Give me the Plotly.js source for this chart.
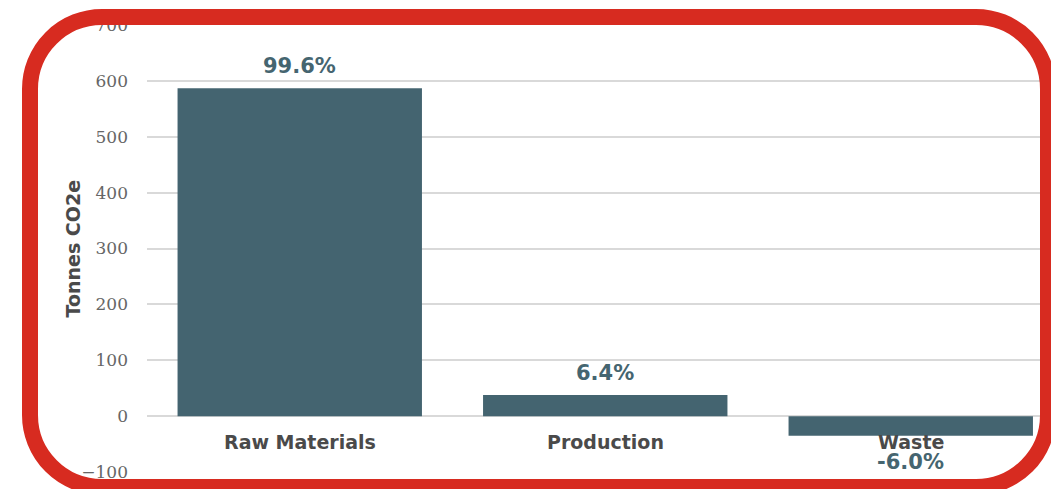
<!DOCTYPE html>
<html>
<head>
<meta charset="utf-8">
<script src="https://cdn.plot.ly/plotly-3.0.1.min.js"></script>
<style>
html,body{margin:0;padding:0;background:#fff;overflow:hidden;width:1051px;height:489px;}
#chart{position:absolute;left:0;top:0;width:1051px;height:489px;}
#frame{position:absolute;left:22px;top:9px;width:1002px;height:454px;border:16px solid #d72b20;border-radius:80px;pointer-events:none;}
</style>
</head>
<body>
<div id="chart"></div>
<div id="frame"></div>
<script>
const categories = ["Raw Materials", "Production", "Waste"];
const values = [587, 38, -35];
const shareLabels = ["99.6%", "6.4%", "-6.0%"];
const yTicks = [-100, 0, 100, 200, 300, 400, 500, 600, 700];

const W = 1051, H = 489, L = 147, T = 25, B = 17;
const plotW = W - L;

const barColor = "#446470";
const annotations = [];
categories.forEach((c, i) => {
  annotations.push({
    x: c, y: 0, xref: "x", yref: "y",
    text: c, showarrow: false,
    yanchor: "top", yshift: -13,
    font: {family: "DejaVu Sans", size: 19, color: "#4a4a4a", weight: "bold"}
  });
  const v = values[i];
  annotations.push({
    x: c, y: v, xref: "x", yref: "y",
    text: shareLabels[i], showarrow: false,
    yanchor: v >= 0 ? "bottom" : "top",
    yshift: v >= 0 ? 8 : -12,
    font: {family: "DejaVu Sans", size: 21, color: "#456570", weight: "bold"}
  });
});
annotations.push({
  xref: "paper", yref: "paper",
  x: (72 - L) / plotW, y: 0.5,
  text: "Tonnes CO2e", textangle: -90, showarrow: false,
  xanchor: "center", yanchor: "middle",
  font: {family: "DejaVu Sans", size: 19, color: "#4a4a4a", weight: "bold"}
});

Plotly.newPlot("chart", [{
  type: "bar",
  x: categories,
  y: values,
  marker: {color: barColor},
  hoverinfo: "none"
}], {
  width: W, height: H,
  margin: {l: L, r: 0, t: T, b: B, pad: 0},
  paper_bgcolor: "#ffffff",
  plot_bgcolor: "#ffffff",
  showlegend: false,
  bargap: 0.2,
  xaxis: {
    type: "category",
    range: [-0.5, -0.5 + plotW / 305.5],
    showticklabels: false,
    showgrid: false, zeroline: false, showline: false, ticks: ""
  },
  yaxis: {
    range: [-100, 700],
    tickvals: yTicks,
    showgrid: true, gridcolor: "#d9d9d9", gridwidth: 2,
    zeroline: true, zerolinecolor: "#d9d9d9", zerolinewidth: 2,
    showline: false, ticks: "",
    ticklabelstandoff: 18,
    tickfont: {family: "DejaVu Serif", size: 17, color: "#666666"}
  },
  annotations: annotations
}, {staticPlot: true});
</script>
</body>
</html>
